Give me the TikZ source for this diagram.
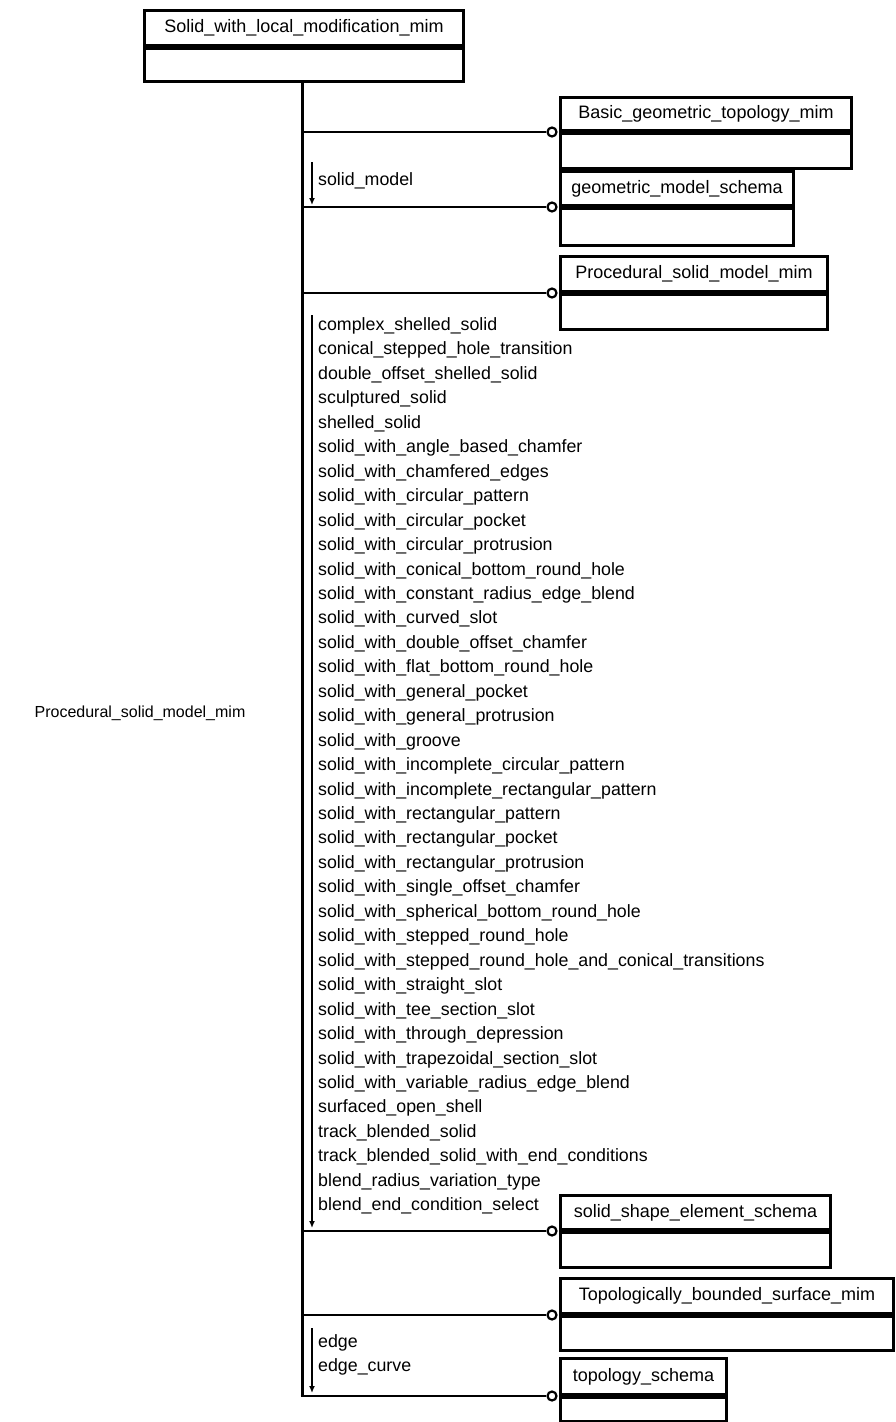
\documentclass[tikz,border=0pt]{standalone}
\usepackage{fontspec}
\setmainfont{Liberation Sans}
\usetikzlibrary{arrows.meta}
\tikzset{
  hdr/.style={draw, line width=3pt, inner sep=0pt, anchor=south west, font=\fontsize{18}{18}\selectfont},
  bodybox/.style={draw, line width=3pt, inner sep=0pt, anchor=north west},
  conn/.style={line width=2.8pt},
  spine/.style={line width=3pt},
  circ/.style={circle, draw, fill=white, line width=2.2pt, minimum size=9pt, inner sep=0pt},
  arr/.style={line width=2pt, -{Latex[length=7pt,width=6pt]}},
  lbl/.style={anchor=west, inner sep=0pt, text height=13pt, text depth=4pt, font=\fontsize{17.8}{17.8}\selectfont},
}
\begin{document}
\begin{tikzpicture}[x=1pt,y=-1pt]
\useasboundingbox (0,0) rectangle (895,1422);
% top box
\node[hdr, minimum width=319pt, minimum height=35pt] (top) at (143,47) {Solid\_with\_local\_modification\_mim};
\node[bodybox, minimum width=319pt, minimum height=33pt] (topb) at (top.south west) {};
% referenced boxes
\node[hdr, minimum width=291pt, minimum height=33pt] (basic) at (559,132) {Basic\_geometric\_topology\_mim};
\node[bodybox, minimum width=291pt, minimum height=35pt] (basicb) at (basic.south west) {};
\node[hdr, minimum width=233pt, minimum height=34pt] (geom) at (559,207) {geometric\_model\_schema};
\node[bodybox, minimum width=233pt, minimum height=37pt] (geomb) at (geom.south west) {};
\node[hdr, minimum width=267pt, minimum height=35pt] (proc) at (559,293) {Procedural\_solid\_model\_mim};
\node[bodybox, minimum width=267pt, minimum height=35pt] (procb) at (proc.south west) {};
\node[hdr, minimum width=270pt, minimum height=34pt] (sse) at (559,1231) {solid\_shape\_element\_schema};
\node[bodybox, minimum width=270pt, minimum height=35pt] (sseb) at (sse.south west) {};
\node[hdr, minimum width=333pt, minimum height=35pt] (tbs) at (559,1315) {Topologically\_bounded\_surface\_mim};
\node[bodybox, minimum width=333pt, minimum height=34pt] (tbsb) at (tbs.south west) {};
\node[hdr, minimum width=166pt, minimum height=36pt] (topo) at (559,1396) {topology\_schema};
\node[bodybox, minimum width=166pt, minimum height=24pt] (topob) at (topo.south west) {};
% spine
\coordinate (j1) at (302,132);
\coordinate (j2) at (302,207);
\coordinate (j3) at (302,293);
\coordinate (j4) at (302,1231);
\coordinate (j5) at (302,1315);
\coordinate (j6) at (302,1396);
\draw[spine] (topb.south -| j1) -- (j6);
% circles and connectors
\node[circ] (c1) at (552,132) {};
\node[circ] (c2) at (552,207) {};
\node[circ] (c3) at (552,293) {};
\node[circ] (c4) at (552,1231) {};
\node[circ] (c5) at (552,1315) {};
\node[circ] (c6) at (552,1396) {};
\draw[conn] (j1) -- (c1);
\draw[conn] (j2) -- (c2);
\draw[conn] (j3) -- (c3);
\draw[conn] (j4) -- (c4);
\draw[conn] (j5) -- (c5);
\draw[conn] ([xshift=-1.5pt]j6) -- (c6);
% arrows
\coordinate (a1s) at (312,162);
\coordinate (a1e) at (312,205);
\draw[arr] (a1s) -- (a1e);
\node[lbl] (sm) at (318,181) {solid\_model};
\coordinate (a2s) at (312,315);
\coordinate (a2e) at (312,1228);
\draw[arr] (a2s) -- (a2e);
\foreach \t [count=\i from 0] in {
complex\_shelled\_solid,
conical\_stepped\_hole\_transition,
double\_offset\_shelled\_solid,
sculptured\_solid,
shelled\_solid,
solid\_with\_angle\_based\_chamfer,
solid\_with\_chamfered\_edges,
solid\_with\_circular\_pattern,
solid\_with\_circular\_pocket,
solid\_with\_circular\_protrusion,
solid\_with\_conical\_bottom\_round\_hole,
solid\_with\_constant\_radius\_edge\_blend,
solid\_with\_curved\_slot,
solid\_with\_double\_offset\_chamfer,
solid\_with\_flat\_bottom\_round\_hole,
solid\_with\_general\_pocket,
solid\_with\_general\_protrusion,
solid\_with\_groove,
solid\_with\_incomplete\_circular\_pattern,
solid\_with\_incomplete\_rectangular\_pattern,
solid\_with\_rectangular\_pattern,
solid\_with\_rectangular\_pocket,
solid\_with\_rectangular\_protrusion,
solid\_with\_single\_offset\_chamfer,
solid\_with\_spherical\_bottom\_round\_hole,
solid\_with\_stepped\_round\_hole,
solid\_with\_stepped\_round\_hole\_and\_conical\_transitions,
solid\_with\_straight\_slot,
solid\_with\_tee\_section\_slot,
solid\_with\_through\_depression,
solid\_with\_trapezoidal\_section\_slot,
solid\_with\_variable\_radius\_edge\_blend,
surfaced\_open\_shell,
track\_blended\_solid,
track\_blended\_solid\_with\_end\_conditions,
blend\_radius\_variation\_type,
blend\_end\_condition\_select}
{\node[lbl] (item\i) at (318,326+\i*24.45) {\t};}
\coordinate (a3s) at (312,1328);
\coordinate (a3e) at (312,1393);
\draw[arr] (a3s) -- (a3e);
\node[lbl] (ed) at (318,1343) {edge};
\node[lbl] (edc) at (318,1367) {edge\_curve};
% left label
\node[lbl, anchor=center, font=\fontsize{16}{16}\selectfont] (psm) at (140,713) {Procedural\_solid\_model\_mim};
\end{tikzpicture}
\end{document}
